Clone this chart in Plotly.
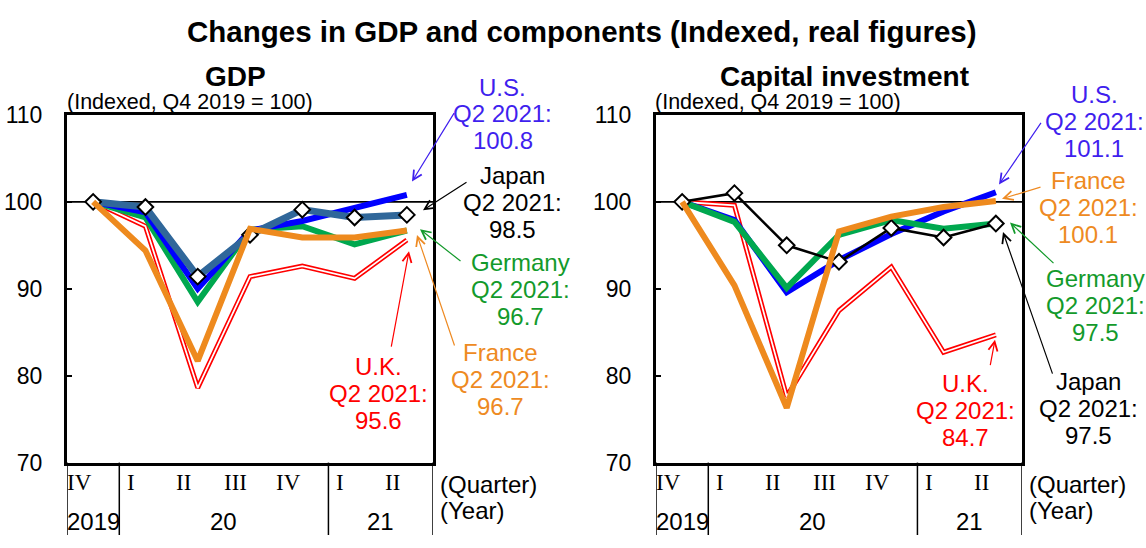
import plotly.graph_objects as go

W, H = 1146, 548

# ---------------- data ----------------
quarters = ["IV", "I", "II", "III", "IV", "I", "II"]
year_groups = [("2019", 0, 0), ("20", 1, 4), ("21", 5, 6)]
y_ticks = [70, 80, 90, 100, 110]

gdp_japan = [100, 99.4, 91.4, 96.2, 99.1, 98.2, 98.5]
gdp_us = [100, 98.8, 90.0, 96.7, 97.8, 99.3, 100.8]
gdp_germany = [100, 98.2, 88.5, 96.8, 97.2, 95.1, 96.7]
gdp_france = [100, 94.4, 81.7, 96.9, 95.9, 95.9, 96.7]
gdp_uk = [100, 97.2, 78.6, 91.4, 92.6, 91.2, 95.6]

capex_japan = [100, 101.0, 95.0, 93.1, 97.0, 95.9, 97.5]
capex_us = [100, 97.9, 89.6, 93.3, 96.3, 98.9, 101.1]
capex_germany = [100, 97.7, 90.1, 96.2, 97.9, 96.9, 97.5]
capex_france = [100, 90.4, 76.3, 96.6, 98.3, 99.4, 100.1]
capex_uk = [100, 99.6, 77.6, 87.5, 92.5, 82.7, 84.7]

# ---------------- styles ----------------
C_US = "#0000FF"
C_DE = "#00A84F"
C_FR = "#EE8A1E"
C_UK = "#FF0000"
C_JP_GDP = "#30679A"
T_US = "#3F1FEE"
T_DE = "#139A2B"
T_FR = "#EE8A22"
T_UK = "#FF0000"
FONT = "Liberation Sans, Arial, sans-serif"
SERIF = "Liberation Serif, Times New Roman, serif"
TXT = 24

fig = go.Figure()


def line(xa, ya, vals, color, width):
    fig.add_trace(go.Scatter(x=list(range(len(vals))), y=vals, xaxis=xa, yaxis=ya,
                             mode="lines", line=dict(color=color, width=width),
                             hoverinfo="skip", showlegend=False))


def double_line(xa, ya, vals, color):
    line(xa, ya, vals, color, 5)
    line(xa, ya, vals, "white", 1.7)


def diamond_line(xa, ya, vals, color, width):
    fig.add_trace(go.Scatter(x=list(range(len(vals))), y=vals, xaxis=xa, yaxis=ya,
                             mode="lines+markers", line=dict(color=color, width=width),
                             marker=dict(symbol="diamond", size=12, color="white",
                                         line=dict(color="black", width=2)),
                             hoverinfo="skip", showlegend=False))


# GDP panel
double_line("x", "y", gdp_uk, C_UK)
line("x", "y", gdp_germany, C_DE, 6)
line("x", "y", gdp_us, C_US, 6)
diamond_line("x", "y", gdp_japan, C_JP_GDP, 7)
line("x", "y", gdp_france, C_FR, 6)

# Capital investment panel
double_line("x2", "y2", capex_uk, C_UK)
line("x2", "y2", capex_us, C_US, 6)
line("x2", "y2", capex_germany, C_DE, 6)
diamond_line("x2", "y2", capex_japan, "black", 2.5)
line("x2", "y2", capex_france, C_FR, 6)

# ---------------- layout ----------------
ybot, ytop = 472, 107
dom_y = [1 - ybot / H, 1 - ytop / H]

xcommon = dict(range=[-0.5, 6.5], showticklabels=False, ticks="", showgrid=False,
               zeroline=False, showline=True, mirror=True, linecolor="black", linewidth=3)
ycommon = dict(range=[70, 110], tickvals=y_ticks, ticks="inside", ticklen=5, tickwidth=1.5,
               tickcolor="black", showgrid=False, zeroline=False, showline=True, mirror=True,
               linecolor="black", linewidth=3, tickfont=dict(family=FONT, size=23, color="black"),
               ticklabelstandoff=17)

fig.update_layout(
    width=W, height=H, margin=dict(l=0, r=0, t=0, b=0),
    paper_bgcolor="white", plot_bgcolor="white", showlegend=False,
    xaxis=dict(domain=[67 / W, 433 / W], anchor="y", **xcommon),
    yaxis=dict(domain=dom_y, anchor="x", **ycommon),
    xaxis2=dict(domain=[656 / W, 1022 / W], anchor="y2", **xcommon),
    yaxis2=dict(domain=dom_y, anchor="x2", **ycommon),
)

# reference line at 100 and category separators below each box
for xa, ya in (("x", "y"), ("x2", "y2")):
    fig.add_shape(type="line", xref=xa, yref=ya, x0=-0.5, x1=6.5, y0=100, y1=100,
                  line=dict(color="black", width=1.8), layer="below")
    seps = [year_groups[0][1] - 0.5] + [g[2] + 0.5 for g in year_groups]
    for s in seps:
        fig.add_shape(type="line", xref=xa, yref="paper", x0=s, x1=s, y0=0, y1=dom_y[0],
                      line=dict(color="black", width=1.5))
    for i, q in enumerate(quarters):
        fig.add_annotation(x=i - 0.27, y=1 - 493 / H, xref=xa, yref="paper", text=q,
                           showarrow=False, xanchor="center", yanchor="middle",
                           font=dict(family=SERIF, size=23, color="black"))
    for name, a, b in year_groups:
        fig.add_annotation(x=(a + b) / 2, y=1 - 534 / H, xref=xa, yref="paper", text=name,
                           showarrow=False, xanchor="center", yanchor="middle",
                           font=dict(family=FONT, size=TXT, color="black"))


def ptext(px, py, text, color="black", size=TXT, bold=False, xanchor="center"):
    if bold:
        text = "<b>" + text + "</b>"
    fig.add_annotation(x=px / W, y=1 - py / H, xref="paper", yref="paper", text=text,
                       showarrow=False, xanchor=xanchor, yanchor="middle",
                       font=dict(family=FONT, size=size, color=color))


def callout(px, py_mid, lines, color, gap=28.3):
    n = len(lines)
    for k, t in enumerate(lines):
        ptext(px, py_mid + (k - (n - 1) / 2) * gap, t, color)


def parrow(hx, hy, tx, ty, color):
    fig.add_annotation(x=hx / W, y=1 - hy / H, xref="paper", yref="paper", text="",
                       showarrow=True, ax=tx - hx, ay=ty - hy, axref="pixel", ayref="pixel",
                       arrowhead=5, arrowsize=1.5, arrowwidth=1.2, arrowcolor=color,
                       standoff=0, startstandoff=0)


# titles
ptext(582, 19, "Changes in GDP and components (Indexed, real figures)", size=29.5, bold=True)
ptext(235, 67, "GDP", size=28, bold=True)
ptext(844, 67, "Capital investment", size=28, bold=True)
ptext(65, 93, "(Indexed, Q4 2019 = 100)", size=21.5, xanchor="left")
ptext(653, 93, "(Indexed, Q4 2019 = 100)", size=21.5, xanchor="left")

for bx in (433, 1022):
    ptext(bx + 5, 495, "(Quarter)", xanchor="left")
    ptext(bx + 5, 522, "(Year)", xanchor="left")

Q = "Q2 2021:"
# GDP call-outs
callout(503, 106, ["U.S.", Q, "%.1f" % gdp_us[-1]], T_US)
parrow(412, 177, 455, 107, T_US)
callout(512, 199, ["Japan", Q, "%.1f" % gdp_japan[-1]], "black")
parrow(423, 207, 468, 178, "black")
callout(520, 290, ["Germany", Q, "%.1f" % gdp_germany[-1]], T_DE)
parrow(420, 227, 462, 260, T_DE)
callout(500, 385, ["France", Q, "%.1f" % gdp_france[-1]], T_FR)
parrow(417, 233, 455, 345, T_FR)
callout(378, 399.5, ["U.K.", Q, "%.1f" % gdp_uk[-1]], T_UK)
parrow(409, 250, 391, 347, T_UK)

# Capital investment call-outs
callout(1094, 113.5, ["U.S.", Q, "%.1f" % capex_us[-1]], T_US)
parrow(999, 180, 1042, 117, T_US)
callout(1088, 204.5, ["France", Q, "%.1f" % capex_france[-1]], T_FR)
parrow(1002, 195, 1042, 183, T_FR)
callout(1095, 307, ["Germany", Q, "%.1f" % capex_germany[-1]], T_DE)
parrow(1010, 220, 1055, 262, T_DE)
callout(1088, 415, ["Japan", Q, "%.1f" % capex_japan[-1]], "black")
parrow(1003, 230, 1053, 373, "black")
callout(965, 417, ["U.K.", Q, "%.1f" % capex_uk[-1]], T_UK)
parrow(995, 343, 990, 370, T_UK)

fig.write_html("out.html",
               config={"displayModeBar": False},
               post_script="document.body.style.margin='0';"
                           "document.body.style.overflow='hidden';")
